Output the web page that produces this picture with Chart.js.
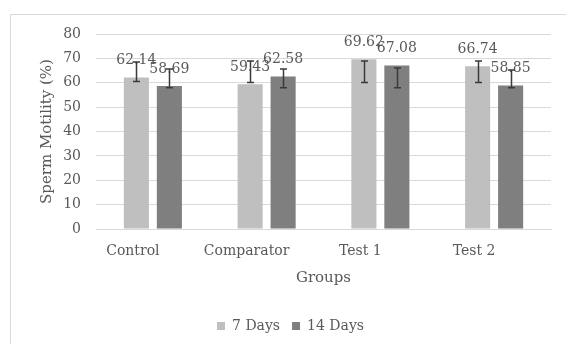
<!DOCTYPE html>
<html>
<head>
<meta charset="utf-8">
<script src="https://cdn.jsdelivr.net/npm/chart.js@4"></script>
<style>
  html, body { margin: 0; padding: 0; background: #fff; }
  #wrap { position: relative; width: 566px; height: 344px; overflow: hidden; }
  #frame { position: absolute; left: 10px; top: 14px; width: 600px; height: 400px; border: 1px solid #d9d9d9; box-sizing: border-box; }
  canvas { position: absolute; left: 0; top: 0; }
</style>
</head>
<body>
<div id="wrap">
  <div id="frame"></div>
  <canvas id="motilityChart" width="566" height="344"></canvas>
</div>
<script>
// dados
const groups = ['Control', 'Comparator', 'Test 1', 'Test 2'];
const days7 = [62.14, 59.43, 69.62, 66.74];
const days14 = [58.69, 62.58, 67.08, 58.85];
// barras de erro (mín / máx)
const days7Low = [60.5, 60.1, 60.1, 60.1];
const days7High = [68.5, 68.9, 68.9, 68.9];
const days14Low = [57.9, 57.9, 57.9, 57.9];
const days14High = [65.6, 65.6, 66.1, 65.2];
const yTicks = [0, 10, 20, 30, 40, 50, 60, 70, 80];

const fontFamily = '"DejaVu Serif", serif';
const textColor = '#595959';

// rótulos de valor acima das barras
const valueLabels = {
    id: 'valueLabels',
    afterDatasetsDraw(chart) {
        const ctx = chart.ctx;
        ctx.save();
        ctx.font = '14px ' + fontFamily;
        ctx.fillStyle = textColor;
        ctx.textAlign = 'center';
        ctx.textBaseline = 'middle';
        chart.data.datasets.forEach((ds, i) => {
            chart.getDatasetMeta(i).data.forEach((bar, j) => {
                ctx.fillText(ds.data[j].toFixed(2), bar.x, bar.y - 17);
            });
        });
        ctx.restore();
    }
};

// barras de erro desenhadas por cima
const errorBars = {
    id: 'errorBars',
    afterDraw(chart) {
        const ctx = chart.ctx;
        const y = chart.scales.y;
        const lows = [days7Low, days14Low];
        const highs = [days7High, days14High];
        ctx.save();
        ctx.strokeStyle = '#3a3a3a';
        ctx.lineWidth = 1.5;
        chart.data.datasets.forEach((ds, i) => {
            chart.getDatasetMeta(i).data.forEach((bar, j) => {
                const x = Math.round(bar.x) + 0.5;
                const yl = y.getPixelForValue(lows[i][j]);
                const yh = y.getPixelForValue(highs[i][j]);
                ctx.beginPath();
                ctx.moveTo(x, yl); ctx.lineTo(x, yh);
                ctx.moveTo(x - 3.5, yl); ctx.lineTo(x + 3.5, yl);
                ctx.moveTo(x - 3.5, yh); ctx.lineTo(x + 3.5, yh);
                ctx.stroke();
            });
        });
        ctx.restore();
    }
};

const ctx = document.getElementById('motilityChart').getContext('2d');
new Chart(ctx, {
    type: 'bar',
    data: {
        labels: groups,
        datasets: [
            { label: '7 Days', data: days7, backgroundColor: '#bfbfbf' },
            { label: '14 Days', data: days14, backgroundColor: '#7f7f7f' }
        ]
    },
    options: {
        responsive: false,
        animation: false,
        devicePixelRatio: 1,
        categoryPercentage: 0.58,
        barPercentage: 0.76,
        layout: { padding: { left: 30, right: 15, top: 34, bottom: 1 } },
        plugins: {
            legend: {
                position: 'bottom',
                labels: {
                    boxWidth: 8, boxHeight: 8, padding: 12,
                    color: textColor,
                    font: { family: fontFamily, size: 14 }
                }
            },
            tooltip: { enabled: false }
        },
        scales: {
            x: {
                grid: { display: false },
                border: { color: '#d9d9d9' },
                ticks: {
                    color: textColor, padding: 6, labelOffset: -20,
                    maxRotation: 0,
                    font: { family: fontFamily, size: 14 }
                },
                title: {
                    display: true, text: 'Groups', color: textColor,
                    padding: { top: 4, bottom: 20 },
                    font: { family: fontFamily, size: 15 }
                },
                afterFit: (scale) => { scale.height = 78; }
            },
            y: {
                min: 0, max: 80,
                afterBuildTicks: (scale) => { scale.ticks = yTicks.map(v => ({ value: v })); },
                grid: { color: '#d9d9d9', drawTicks: false },
                border: { display: false },
                ticks: {
                    color: textColor, padding: 15,
                    font: { family: fontFamily, size: 14 }
                },
                title: {
                    display: true, text: 'Sperm Motility (%)', color: textColor,
                    padding: { top: 8, bottom: 0 },
                    font: { family: fontFamily, size: 15 }
                },
                afterFit: (scale) => { scale.width = 66; }
            }
        }
    },
    plugins: [valueLabels, errorBars]
});
</script>
</body>
</html>
